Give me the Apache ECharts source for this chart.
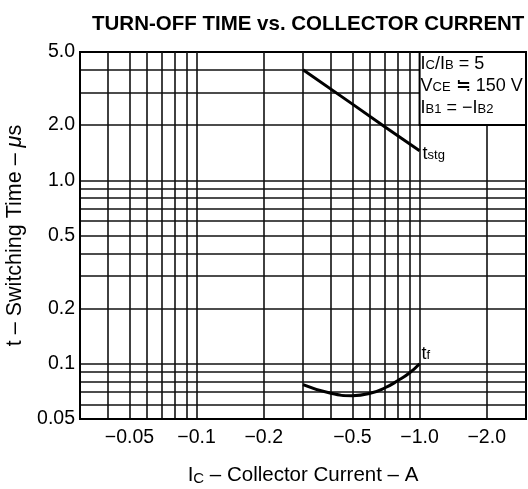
<!DOCTYPE html>
<html>
<head>
<meta charset="utf-8">
<script src="https://cdn.jsdelivr.net/npm/echarts@6/dist/echarts.min.js"></script>
<style>
html, body { margin: 0; padding: 0; background: #fff; }
#chart { width: 528px; height: 489px; }
</style>
</head>
<body>
<div id="chart"></div>
<script>
// grid lines of the log paper (magnitudes, current shown as negative)
var xGrid = [0.04, 0.05, 0.06, 0.07, 0.08, 0.09, 0.1, 0.2, 0.3, 0.4, 0.5, 0.6, 0.7, 0.8, 0.9, 1, 2];
var yGrid = [0.06, 0.07, 0.08, 0.09, 0.1, 0.2, 0.3, 0.4, 0.5, 0.6, 0.7, 0.8, 0.9, 1, 2, 3, 4];

var xTicks = [0.05, 0.1, 0.2, 0.5, 1, 2];
var xTickLabels = ['\u22120.05', '\u22120.1', '\u22120.2', '\u22120.5', '\u22121.0', '\u22122.0'];
var yTicks = [0.05, 0.1, 0.2, 0.5, 1, 2, 5];
var yTickLabels = ['0.05', '0.1', '0.2', '0.5', '1.0', '2.0', '5.0'];

// storage time and fall time, µs vs |Ic| in A
var tstg = [[0.3, 4.0], [0.5, 2.6], [0.7, 1.95], [1.0, 1.45]];
var tf = [[0.3, 0.077], [0.4, 0.069], [0.5, 0.067], [0.6, 0.069], [0.7, 0.074], [0.8, 0.081], [0.9, 0.089], [1.0, 0.1]];

// conditions box corners
var boxX = [1.0, 3.0];
var boxY = [2.0, 5.0];

var font = 'Liberation Sans, Arial, Helvetica, sans-serif';

function pick(ticks, labels) {
    return function (v) {
        for (var i = 0; i < ticks.length; i++) {
            if (Math.abs(ticks[i] - v) < ticks[i] * 1e-6) return labels[i];
        }
        return '';
    };
}

var big = { fontSize: 18, fontFamily: font, color: '#000', lineHeight: 22, verticalAlign: 'bottom' };
var small = { fontSize: 13, fontFamily: font, color: '#000', lineHeight: 22, verticalAlign: 'bottom', padding: [0, 0, 1, 0] };

var option = {
    animation: false,
    backgroundColor: '#fff',
    title: {
        text: 'TURN-OFF TIME vs. COLLECTOR CURRENT',
        left: 87,
        top: 9,
        textStyle: { fontSize: 20.5, fontWeight: 'bold', fontFamily: font, color: '#000' }
    },
    grid: {
        left: 80,
        right: 2,
        top: 52,
        bottom: 70,
        outerBoundsMode: 'none',
        containLabel: false,
        show: true,
        borderColor: '#000',
        borderWidth: 2,
        backgroundColor: 'transparent'
    },
    xAxis: {
        type: 'log',
        min: 0.03,
        max: 3,
        name: '{n|I}{s|C}{n| \u2013 Collector Current \u2013 A}',
        nameLocation: 'middle',
        nameGap: 43,
        nameTextStyle: {
            rich: {
                n: { fontSize: 20.5, fontFamily: font, color: '#000', verticalAlign: 'bottom', lineHeight: 24 },
                s: { fontSize: 15, fontFamily: font, color: '#000', verticalAlign: 'bottom', lineHeight: 24 }
            }
        },
        axisLine: { show: true, onZero: false, lineStyle: { color: '#000', width: 2 } },
        axisTick: { show: false, customValues: xGrid },
        axisLabel: {
            customValues: xTicks,
            formatter: pick(xTicks, xTickLabels),
            margin: 9,
            fontSize: 19.5,
            fontFamily: font,
            color: '#000'
        },
        splitLine: { show: true, lineStyle: { color: '#111', width: 1.6 } },
        minorSplitLine: { show: false }
    },
    yAxis: {
        type: 'log',
        min: 0.05,
        max: 5,
        name: '{n|t \u2013 Switching Time \u2013 }{i|\u03bc}{n|s}',
        nameLocation: 'middle',
        nameRotate: 90,
        nameGap: 50,
        nameTextStyle: {
            rich: {
                n: { fontSize: 21.5, fontFamily: font, color: '#000' },
                i: { fontSize: 21.5, fontFamily: font, color: '#000', fontStyle: 'italic' }
            }
        },
        axisLine: { show: true, onZero: false, lineStyle: { color: '#000', width: 2 } },
        axisTick: { show: false, customValues: yGrid },
        axisLabel: {
            customValues: yTicks,
            formatter: pick(yTicks, yTickLabels),
            margin: 5,
            fontSize: 19.5,
            fontFamily: font,
            color: '#000'
        },
        splitLine: { show: true, lineStyle: { color: '#111', width: 1.6 } }
    },
    series: [{
        name: 'tstg',
        type: 'line',
        data: tstg,
        symbol: 'none',
        lineStyle: { color: '#000', width: 3 },
        endLabel: {
            show: true,
            distance: 3,
            offset: [0, 1],
            formatter: '{t|t}{s|stg}',
            rich: { t: big, s: small }
        },
        markArea: {
            silent: true,
            itemStyle: { color: '#fff', borderColor: '#000', borderWidth: 2 },
            label: {
                show: true,
                position: 'insideTopLeft',
                distance: 0,
                padding: [0, 0, 0, 2],
                formatter: [
                    '{b|I}{s|C}{b|/I}{s|B}{b| = 5}',
                    '{b|V}{s|CE}{b| \u2252 150 V}',
                    '{b|I}{s|B1}{b| = \u2212I}{s|B2}'
                ].join('\n'),
                rich: { b: big, s: small }
            },
            data: [[{ coord: [boxX[0], boxY[1]] }, { coord: [boxX[1], boxY[0]] }]]
        }
    }, {
        name: 'tf',
        type: 'line',
        data: tf,
        smooth: true,
        symbol: 'none',
        lineStyle: { color: '#000', width: 3 },
        endLabel: {
            show: true,
            distance: 2,
            offset: [0, -12],
            formatter: '{t|t}{s|f}',
            rich: { t: big, s: small }
        }
    }]
};

var chart = echarts.init(document.getElementById('chart'));
chart.setOption(option);
</script>
</body>
</html>
